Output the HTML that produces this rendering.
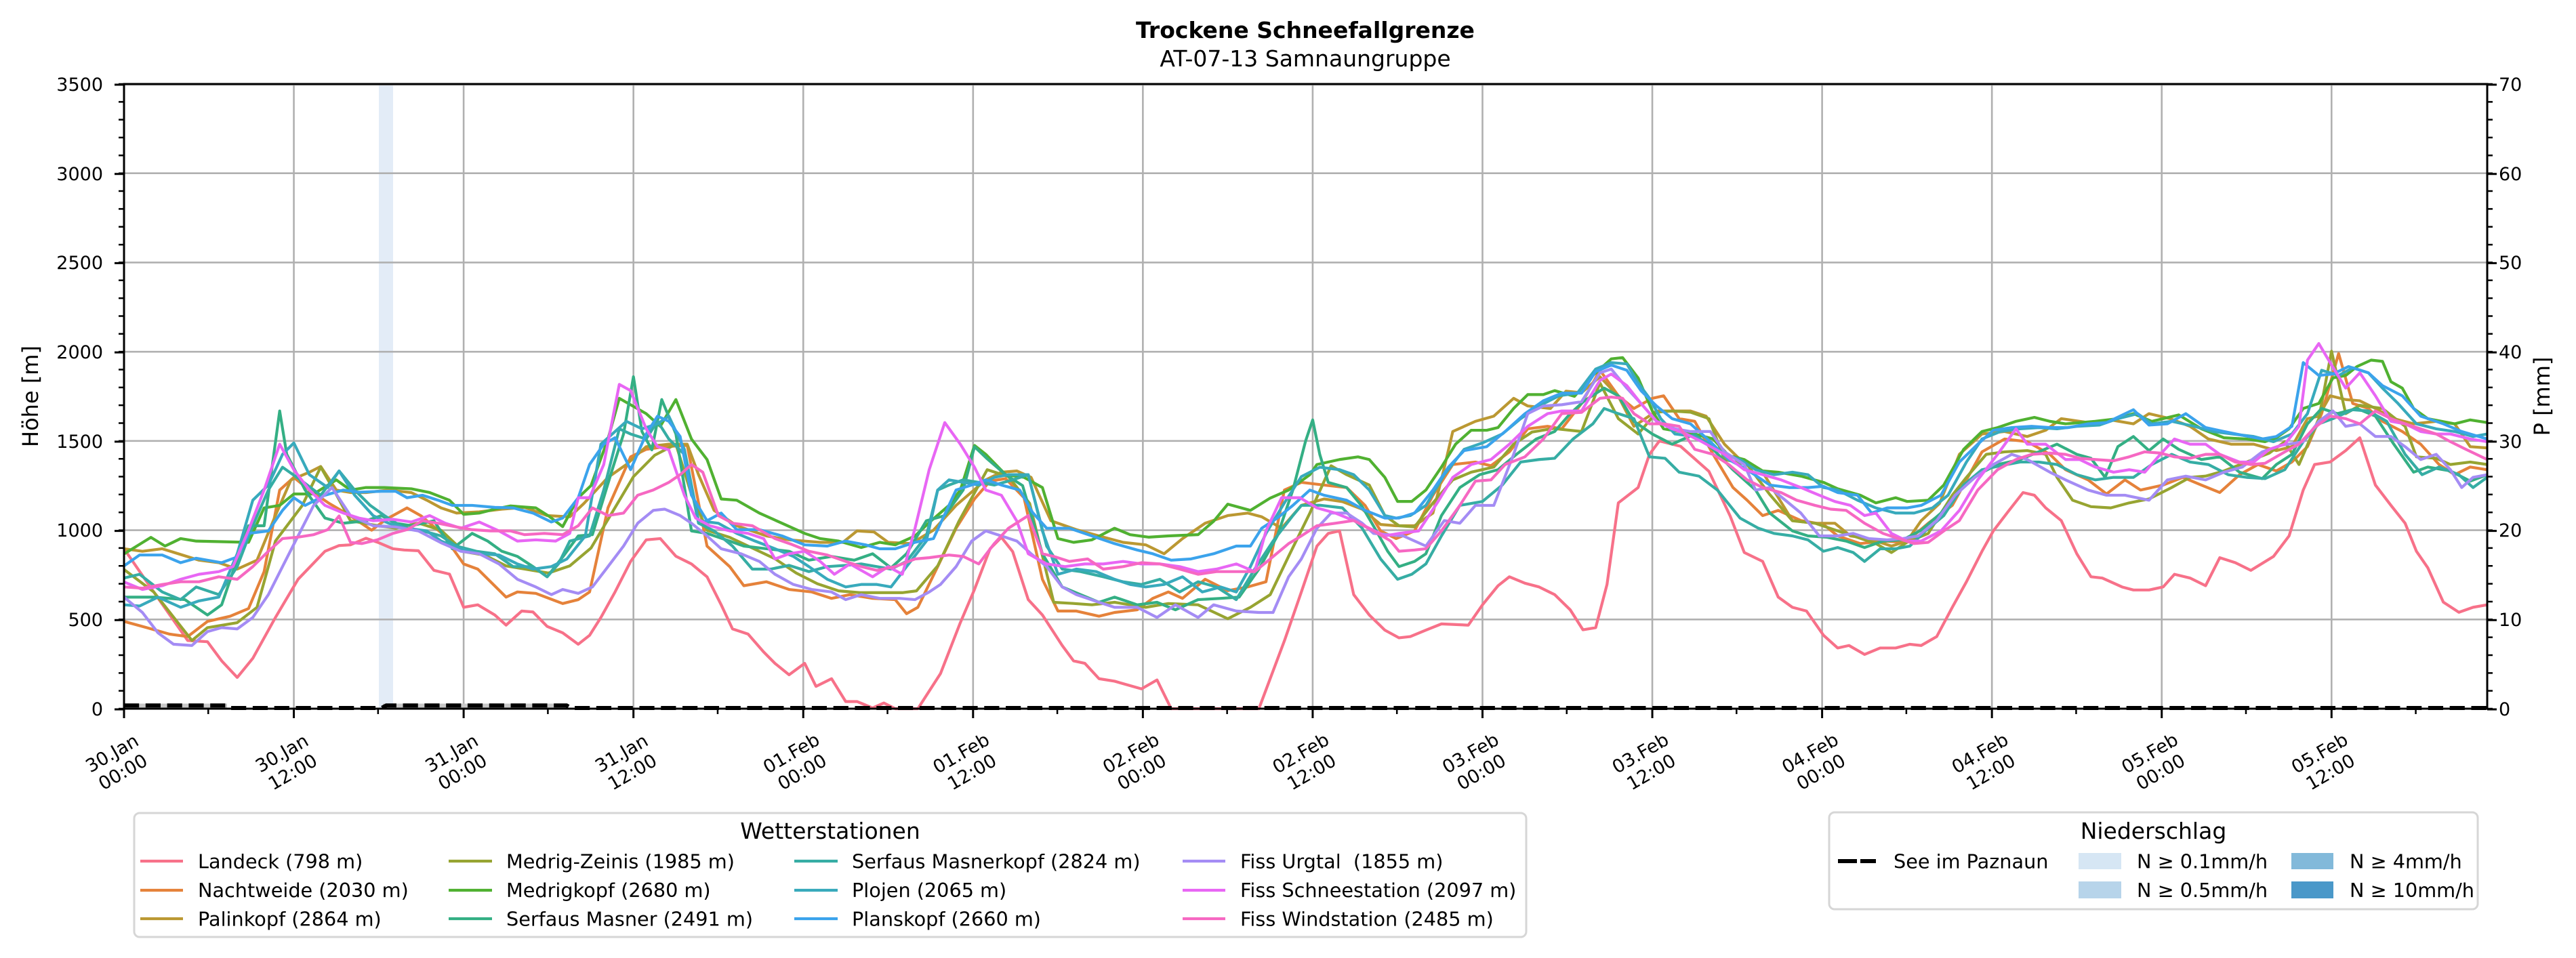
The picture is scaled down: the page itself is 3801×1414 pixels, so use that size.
<!DOCTYPE html>
<html><head><meta charset="utf-8"><style>
html,body{margin:0;padding:0;background:#fff;overflow:hidden}
svg{display:block}
text{font-family:"DejaVu Sans","Liberation Sans",sans-serif;fill:#000}
.tk{font-size:27px}
.lg{font-size:28.7px}
.s{fill:none;stroke-width:4.2;stroke-linejoin:round;vector-effect:non-scaling-stroke}
</style></head><body>
<svg width="3801" height="1414" viewBox="0 0 3801 1414" xmlns="http://www.w3.org/2000/svg">
<rect width="3801" height="1414" fill="#fff"/>
<!-- precip band -->
<rect x="559" y="124" width="21" height="922" fill="#e3ecf7"/>
<!-- grid -->
<g stroke="#b0b0b0" stroke-width="2.6">
<path d="M433.56,124V1046M684.12,124V1046M934.68,124V1046M1185.24,124V1046M1435.8,124V1046M1686.36,124V1046M1936.92,124V1046M2187.48,124V1046M2438.04,124V1046M2688.6,124V1046M2939.16,124V1046M3189.72,124V1046M3440.28,124V1046"/>
<path d="M183,914.29H3670M183,782.57H3670M183,650.86H3670M183,519.14H3670M183,387.43H3670M183,255.71H3670M183,125H3670"/>
</g>
<!-- series -->
<g transform="translate(183,1046) scale(20.88,-0.263429)">
<polyline class="s" stroke="#f77189" points="0,896 2.1,654 4.5,382 5.9,375 6.9,268 8,175 9.1,282 10.7,511 12.3,725 14.2,882 15.2,914 16,918 17.1,955 18,930 19,896 19.8,889 20.8,885 21.9,775 23,754 24,568 25,582 26.2,525 27,468 28.1,547 28.9,542 29.9,461 31,425 32.1,361 32.9,411 33.7,511 34.7,654 35.8,825 36.9,946 37.9,953 39,854 40.1,811 41.2,739 42.2,582 43,447 44.1,418 45.2,318 46,254 47,190 48.1,254 48.9,125 50,168 51,40 51.8,40 52.9,4 53.7,32 54.5,0 56.1,0 57.7,197 59.1,482 60.1,668 61.2,896 62,960 62.8,880 63.9,611 64.9,525 66.3,354 67.1,268 67.9,254 68.9,168 70,154 71.9,111 73,161 74,0 80.2,0 82,380 83.2,654 84.3,911 85.1,982 85.9,996 86.9,639 88,525 89.1,440 90.1,397 90.9,404 92,440 93.1,475 95,468 96,582 97.1,689 97.9,739 99,703 100,682 101.1,639 102.2,554 103.1,442 104,454 104.8,696 105.6,1153 107,1239 107.8,1425 108.5,1500 110,1470 112,1330 113.5,1080 114.5,875 115.8,825 116.9,625 117.9,568 118.9,547 120.1,411 121.1,340 121.9,354 123,304 124.1,340 125.2,340 126.2,361 127,354 128.1,404 129.2,568 130.2,711 131.3,882 132.1,996 133.2,1110 134.2,1211 135,1196 135.8,1125 136.9,1054 138,868 139,739 139.8,732 141.2,682 142,665 143.1,665 144.1,682 144.9,753 146,732 147.1,689 148.1,846 149.2,818 150.3,775 151.9,853 153,968 154,1225 154.8,1368 155.9,1382 157,1446 158,1518 159.1,1253 160.2,1139 161.2,1039 162,882 162.8,790 163.9,597 165,540 166,568 167,582"/>
<polyline class="s" stroke="#e5823a" points="0,489 1.6,454 3.2,418 4.5,404 5.9,489 7.5,518 8.8,561 9.9,768 11,1225 12,1296 13.1,1225 14.5,1150 16,1080 17.5,1000 18.5,1060 20,1125 21,1080 22.5,980 24,811 25,782 27,625 27.8,654 29.1,646 31,589 32.1,611 32.9,654 34.2,1125 35.8,1411 36.9,1453 38.2,1468 39.8,1475 41.2,911 42.8,796 43.8,689 45.4,711 47,668 48.6,654 50,618 51.3,639 52.9,618 54.5,611 55.3,532 56.1,568 57.5,796 58.8,1011 60.1,1175 61.2,1275 62.3,1289 63.6,1182 64.9,725 66,547 67.3,547 68.9,518 70,539 71.6,554 72.7,618 73.8,654 74.8,618 76.4,725 78,661 79.4,682 80.7,711 82,1225 83.2,1268 84.8,1253 86.4,1239 87.7,1139 88.8,996 89.9,953 91.2,996 92.5,1196 93.9,1368 95.5,1382 96.6,1361 97.9,1439 99.2,1568 100.6,1582 101.6,1568 103,1710 104.3,1896 105.6,1753 106.7,1682 108,1739 108.8,1753 109.9,1625 111,1610 112.3,1425 113.7,1239 114.7,1168 115.8,1082 116.9,1111 118.5,1054 120.1,1032 121.1,968 122.7,925 124.3,939 125.9,932 127.5,1039 129.2,1139 130.2,1282 131.3,1439 132.9,1511 134.5,1496 136.1,1425 137.2,1339 138.8,1282 140.1,1203 141.4,1282 142.5,1225 144.1,1253 145.5,1296 146.8,1253 148.1,1211 149.5,1311 150.8,1368 152.1,1332 153.2,1382 154.3,1468 155.3,1653 156.5,1990 157.5,1710 158.6,1682 159.6,1610 161,1553 162.3,1482 163.6,1368 164.7,1311 165.8,1354 167,1339"/>
<polyline class="s" stroke="#bb9832" points="0,896 1.3,882 2.7,896 5.3,832 6.7,818 8,782 9.4,832 10.7,1082 11.8,1282 13.1,1325 13.9,1357 15,1225 16,1211 17.1,1211 18.7,1225 20.3,1211 21.4,1168 22.4,1125 23.5,1096 25.1,1103 26.7,1118 28.3,1128 29.9,1082 31.5,1075 32.5,1150 34.2,1296 35.5,1368 36.9,1468 38.5,1482 39.8,1482 40.6,1311 41.7,1111 43.3,1025 45.4,968 47,946 49.2,932 50.8,932 51.8,996 53,990 54,932 55.6,925 57.2,1000 58.8,1139 60.9,1282 62,1325 63.1,1332 64.1,1296 65.5,1053 67.3,1003 68.9,968 70.6,932 72.2,918 73.5,868 74.8,953 76.4,1039 78,1082 79.4,1096 80.4,1075 81.8,1011 83.2,1139 84.8,1175 86.1,1160 87.5,1118 88.8,1032 89.9,1025 91.2,1025 92.5,1096 93.3,1350 93.9,1553 95.5,1610 96.8,1639 98.2,1739 99.2,1696 100.8,1682 101.9,1779 103,1770 104.3,1860 105.6,1750 106.7,1582 108.3,1668 109.4,1668 110.7,1668 111.8,1639 113.1,1482 114.2,1396 115.8,1325 117.9,1054 119.5,1039 120.9,1039 122,968 123.3,953 124.9,911 126,939 127,1053 128.3,1150 129.7,1425 131.3,1539 132.9,1553 134.5,1525 135.8,1560 136.9,1625 138.8,1603 140.4,1618 142,1596 143.1,1653 144.6,1625 146,1582 147.3,1511 148.9,1482 150.5,1482 152.1,1446 153.2,1468 154.3,1625 155.1,1639 155.9,1753 157,1732 158,1725 159.1,1682 160.4,1625 161.8,1596 163.4,1610 164.7,1596 165.8,1468 167,1461"/>
<polyline class="s" stroke="#97a431" points="0,780 2.1,654 4.8,382 5.9,454 8,482 9.4,568 10.7,939 12.6,1139 13.9,1354 15,1200 16,1053 17.6,1030 19.2,1011 20.8,1040 22.4,1000 24,880 25.5,860 27,800 28.5,780 30,760 31.5,800 33,900 34.5,1100 36,1300 37.5,1420 39,1482 40.1,1200 41.2,1000 42.8,960 44.4,900 46,840 47.5,760 49,700 50.5,660 52,650 53.5,650 55,650 56,660 57.5,800 59,1050 61,1339 62.5,1300 64,1150 65.7,596 67,590 68.4,582 70,596 72.2,568 73.8,589 75.9,582 78,504 79.6,568 81,639 82.3,854 83.8,1096 85.3,1361 86.4,1311 88,1253 89.1,1082 90.1,1025 91.2,1018 92.5,1153 93.9,1282 95.2,1325 96.8,1354 98.2,1482 99.5,1550 101,1570 103,1553 104.3,1825 105.6,1625 107,1539 108.3,1661 109.4,1668 110.7,1661 112,1625 113.1,1396 114.7,1368 116.3,1200 117.9,1053 119.5,1039 121.1,996 122.2,968 123.8,925 124.9,875 126,932 127.5,982 129.2,1196 130.2,1296 131.6,1425 132.9,1439 134.5,1446 135.8,1425 136.6,1296 137.7,1168 139,1132 140.4,1125 141.7,1153 143.1,1175 144.7,1239 146,1296 147.1,1303 148.4,1332 150,1382 151.6,1432 152.7,1496 153.7,1368 155.1,1625 156,2003 157,1653 158,1700 159.6,1682 161.2,1582 162,1411 163.4,1403 164.4,1368 165.8,1382 167,1368"/>
<polyline class="s" stroke="#50b131" points="0,867 1.9,960 2.9,911 4,953 5.1,939 8.8,932 9.9,1125 11,1139 12,1203 13.4,1203 15,1282 16,1225 17.1,1239 18.4,1239 20.3,1232 21.6,1211 23,1168 24,1089 25.1,1096 26.2,1118 27.3,1136 29.1,1125 30,1080 31,1020 32.1,1182 33,1250 34.2,1511 35,1739 36.9,1653 37.9,1582 39,1732 40.1,1511 41.2,1396 42.2,1175 43.3,1168 44.9,1096 46.5,1039 48.1,982 49.2,953 50.5,939 52.1,903 53.4,932 54.5,918 55.9,968 57,1050 58.3,1139 59.1,1225 60.1,1475 60.9,1425 62.3,1311 63.6,1296 64.9,1239 66,953 67.1,932 68.4,946 70,1011 71.1,975 72.4,961 73.8,968 75.9,975 77,1050 78,1146 79.6,1111 81,1180 82.3,1225 83.8,1311 84.3,1368 85.9,1396 87.2,1411 88,1396 89.1,1296 90,1161 91,1161 92,1225 93.1,1354 94.1,1482 95.2,1560 96.3,1560 97.1,1575 98.2,1682 99.2,1760 100.3,1760 101.1,1782 102.5,1750 103.8,1867 105.1,1960 105.9,1967 107,1853 108,1668 108.8,1568 109.9,1553 111,1539 112.3,1511 113.4,1418 114.5,1396 115.8,1332 116.9,1325 118.5,1303 120.1,1268 121.1,1232 122.7,1196 123.8,1153 125.2,1182 126,1161 127.5,1168 128.6,1253 130,1453 131.3,1553 132.4,1575 133.7,1610 135,1632 136.1,1610 137.2,1596 139.3,1610 140.9,1625 142,1653 143.3,1610 145.2,1646 146.8,1568 148.4,1518 150,1511 151.3,1496 152.1,1518 153,1568 154,1682 155.1,1710 156.1,1853 157,1867 157.8,1917 158.8,1953 159.6,1946 160.2,1832 161,1796 161.8,1682 162.8,1625 164.7,1596 165.8,1618 167,1603"/>
<polyline class="s" stroke="#34af84" points="0,625 2.1,625 4.3,611 5.9,525 6.9,582 8.8,1025 9.9,1025 11,1668 11.5,1425 12.8,1225 14.2,1068 15.5,1039 17.1,1053 18.2,1082 19.2,1039 20.3,1025 21.9,1053 23.2,896 24.6,982 25.7,939 26.7,882 27.8,853 28.9,796 29.9,739 31,850 32.1,968 33.1,975 34.5,1339 35.3,1539 36,1860 36.6,1553 37.3,1450 38,1732 39,1539 40.1,996 41.2,982 42.8,939 43.8,911 45.4,896 47,882 48.4,832 50,853 51.6,832 52.9,868 54.2,789 55.3,868 56.7,1053 58,1082 59.3,1225 60.1,1468 61,1400 62.3,1311 63.5,1250 64.9,868 66.3,682 67.6,639 68.9,596 70,625 71.6,582 73,596 74.3,554 75.9,611 77.5,618 78.8,625 80.2,782 81.5,968 82.6,1225 83.5,1500 84,1618 84.5,1425 85.1,1268 86.4,1239 87.5,1132 88.5,996 89.3,882 90.1,796 91.2,825 92,868 93.1,1082 94.4,1239 95.8,1311 97.1,1339 98.4,1425 99.8,1511 101.1,1553 102.2,1653 103.2,1725 104.6,1796 105.6,1753 106.7,1610 108,1539 109.4,1482 111,1539 112.3,1453 113.7,1339 115.3,1225 116.3,1096 117.9,996 119,968 120.3,961 121.7,939 123,903 124.3,939 125.7,946 127,1000 128.4,1096 129.7,1225 131,1311 132.4,1368 134,1396 135.3,1439 136.6,1482 138,1425 139,1403 140,1296 140.9,1468 142,1525 143.1,1446 144.1,1511 145.2,1453 146.8,1396 148.1,1411 149.5,1325 151.1,1289 152.1,1368 153.2,1425 154.3,1596 155.3,1682 156.4,1653 157.8,1682 159.1,1639 160.4,1482 161.8,1325 162.8,1354 164.4,1332 165.8,1275 167,1311"/>
<polyline class="s" stroke="#36ada4" points="0,732 1.1,753 2.7,654 4,611 5.1,682 6.7,639 8,796 9.1,1025 10.2,1225 11.2,1353 12.5,1280 13.9,1196 15.2,1332 16.3,1225 17.4,1139 18.4,1082 19.8,1011 21.1,996 22.4,968 23.5,911 24.9,882 26.2,868 27.5,796 28.9,796 29.9,739 30.7,811 31.5,939 32.9,968 33.9,1225 35,1568 35.8,1539 36.9,1511 37.7,1611 38.5,1511 39.6,1425 40.6,1039 41.7,996 43,911 44.4,782 45.7,782 47,803 48.4,768 49.7,796 51,803 52.1,811 53.2,796 54.2,782 55.3,825 56.7,968 57.5,1225 58.3,1253 59.3,1282 60.4,1268 61.5,1253 62.8,1282 63.9,1311 65.2,911 66.3,782 67.6,768 69.2,739 70.6,711 71.9,696 73.2,725 74.6,654 75.9,711 77.2,682 78.6,611 79.9,782 81.2,939 82.6,1082 83.2,1139 84.5,1140 86.1,1125 87.5,1011 88.8,839 90,725 91,753 92,811 93.1,968 94.4,1139 96,1161 97.4,1253 98.7,1382 100,1396 101.1,1403 102.4,1511 103.8,1596 104.6,1682 105.6,1653 106.7,1625 107.8,1411 108.9,1403 109.9,1325 111.3,1303 112.6,1225 114.2,1068 115.5,1011 116.6,982 117.9,968 119,946 120.1,882 121.1,903 122.2,875 123,825 124.1,896 125.2,896 126.2,911 127.3,996 128.6,1082 130,1253 131.3,1339 132.6,1361 134,1382 135.3,1382 136.6,1368 138,1311 139.3,1282 140.6,1296 142,1296 143.3,1368 144.7,1425 146,1382 147.3,1368 148.7,1311 150,1296 151.3,1289 152.7,1339 154,1496 155.1,1596 156.1,1625 157.5,1675 158.6,1668 159.9,1610 161.2,1425 162.4,1311 163.6,1354 165,1311 166,1239 167,1296"/>
<polyline class="s" stroke="#38aabc" points="0,582 1.1,575 2.4,625 4,568 5.3,604 6.7,625 8,868 9.1,1168 10.2,1253 11.2,1425 12,1489 13.1,1311 14.4,1239 15.2,1332 16.3,1196 17.6,1082 18.7,1039 20,1011 21.4,996 22.4,939 23.8,896 25.1,868 26.5,861 27.8,811 28.9,782 30.2,796 31.3,839 32.6,968 33.7,1482 34.7,1553 35.5,1610 36.6,1568 37.7,1596 38.5,1639 39.6,1453 40.6,1053 42,1039 43.3,982 44.6,939 46,896 47.3,853 48.4,796 49.7,725 51,682 52.1,696 53.2,696 54.2,682 55.3,796 56.7,939 57.5,1225 58.3,1282 59.3,1268 60.4,1253 61.5,1296 62.5,1311 63.9,1311 64.9,996 66,753 67.3,782 68.7,768 70,725 71.1,696 72.2,682 73.5,696 74.8,739 76.2,654 77.5,682 78.6,654 79.6,796 80.7,982 82,1153 83.2,1300 84.5,1353 85.9,1339 86.9,1311 88,1225 89.1,1082 89.9,1068 90.9,1082 92,1139 93.3,1311 94.7,1453 96,1489 97.4,1539 98.7,1625 100,1696 101.4,1753 102.7,1768 104,1903 105.1,1939 106.2,1932 107,1825 107.8,1739 108.6,1625 109.6,1539 111,1525 112.1,1482 113.1,1425 114.2,1396 115.3,1339 116.6,1311 117.9,1325 119,1311 120.1,1239 121.1,1225 122.5,1168 123.8,1125 125.2,1096 126.5,1096 127.8,1125 128.9,1196 130.2,1382 131.3,1511 132.6,1553 134,1568 135.3,1575 136.6,1568 138,1582 139.6,1589 140.9,1625 142.3,1653 143.3,1596 144.7,1610 146.3,1582 147.6,1553 149,1539 150.5,1525 151.9,1496 153.2,1539 154.3,1653 155.3,1896 156.5,1867 157.5,1910 158.6,1882 159.6,1796 160.7,1710 162,1596 163.4,1568 164.7,1553 166,1525 167,1539"/>
<polyline class="s" stroke="#3ba3ec" points="0,800 1.1,861 2.7,861 4,818 5.1,843 6.9,818 8,850 8.8,982 10.2,996 11.2,1111 12,1182 12.8,1139 14.2,1196 15.5,1225 16.6,1213 18.2,1218 19.2,1218 20,1182 21.1,1196 22.2,1168 23.2,1139 24.6,1139 26.2,1128 27.5,1125 28.9,1096 30.2,1046 31,1068 32.1,1182 32.9,1368 33.9,1482 34.7,1518 35.8,1339 36.9,1539 37.7,1639 38.5,1610 39.3,1525 40.1,1196 41.2,1053 42.2,1096 43.3,1003 44.9,1003 46.5,968 48.1,918 49.7,911 51,939 52.4,918 53.4,896 54.5,896 55.9,932 57.2,953 58.8,1225 59.9,1253 60.9,1282 62,1253 63.3,1225 64.2,1100 65.2,1011 66.8,1011 68.4,968 70,925 71.6,889 72.7,868 74,832 75.4,839 77,868 78.6,911 79.6,911 80.4,1011 81.5,1068 82.6,1139 83.8,1225 84.8,1196 86.4,1168 87.7,1111 89.1,1068 90.1,1068 91.2,1096 92.5,1225 93.6,1354 94.7,1446 96.3,1468 97.6,1553 99,1653 100.3,1725 101.6,1768 103,1768 104,1889 105.1,1925 106.2,1896 107.2,1782 108.3,1696 109.4,1625 110.7,1596 112.1,1496 113.4,1396 114.7,1339 116.3,1253 117.7,1239 119,1239 120.1,1246 121.1,1211 122.5,1196 123.5,1096 124.6,1125 126,1125 127,1139 128.4,1196 129.7,1382 131,1482 132.1,1560 133.4,1575 134.8,1582 136.1,1575 137.4,1575 138.8,1596 140.1,1603 142,1675 143.1,1589 144.4,1596 145.7,1653 147.1,1575 148.4,1553 149.7,1532 151.1,1511 152.1,1525 153.2,1582 154,1939 155.1,1867 156.1,1875 157.2,1917 158.6,1882 159.6,1810 161,1753 162.3,1639 163.9,1596 165.2,1553 167,1511"/>
<polyline class="s" stroke="#a48cf4" points="0,625 1.3,539 2.4,425 3.5,361 4.8,354 5.9,432 6.9,454 8,447 9.1,511 10.2,639 11.2,796 12.3,968 13.4,1139 14.7,1239 16,1082 17.6,1025 19.2,1018 20.8,996 22.4,930 23.8,882 25.1,868 26.5,811 27.8,725 29.1,682 30.2,639 31,668 32.1,646 33.1,682 34.2,796 35.3,911 36.3,1039 37.4,1111 38.2,1118 39.3,1082 40.1,1039 41.2,968 42.2,896 43.6,868 44.9,825 46,753 47.3,696 48.6,668 50,654 51,611 52.1,639 53.4,618 54.8,618 55.9,611 56.9,654 57.7,696 58.8,796 59.9,939 60.9,996 62,968 63.1,939 64.1,868 65.2,796 66.3,682 67.3,639 68.9,596 70,568 71.6,568 73,511 74.3,582 75.9,511 77,582 78.6,547 80.2,539 81.2,539 82.3,739 83.2,839 84.3,1011 85.3,1096 86.4,1096 87.5,1039 88.3,982 89.3,975 90.4,968 92,911 93.3,1054 94.4,1039 95.5,1139 96.8,1139 98.2,1425 99.2,1653 100.3,1696 101.6,1703 103,1720 104.3,1882 105.1,1903 106.2,1796 107.2,1710 108.3,1610 109.6,1568 110.7,1553 112.1,1553 113.1,1439 114.5,1368 115.3,1225 116.3,1239 117.4,1168 118.5,1096 119.8,968 121.1,968 122.2,982 123.3,953 124.6,946 125.7,953 126.8,968 128.1,1054 129.4,1196 130.8,1296 132.1,1368 133.4,1425 134.5,1396 136.1,1325 137.2,1282 138.8,1225 140.1,1196 141.4,1196 143.1,1168 144.4,1282 145.7,1303 147.1,1282 148.4,1325 149.7,1354 151.1,1439 152.4,1475 154,1496 155.1,1610 156.1,1668 157,1582 158,1596 159.1,1525 160.2,1525 161.2,1468 162.3,1396 163.4,1425 164.4,1339 165.2,1239 166,1296 167,1311"/>
<polyline class="s" stroke="#e866f4" points="0,710 1.3,668 2.7,689 4,725 5.3,753 6.7,768 7.7,796 8.8,1000 9.9,1225 11,1482 12,1339 13.1,1225 14.2,1139 15.5,1096 16.6,1068 17.6,1053 19,1061 20.3,1046 21.6,1082 22.7,1039 23.8,1011 25.1,1046 26.5,996 27.8,939 29.1,946 30.5,939 31.5,982 32.1,1182 32.9,1182 33.9,1368 35,1817 35.8,1782 36.9,1568 37.7,1468 38.5,1450 39.6,1196 40.4,1068 41.4,1025 42.8,996 44.1,982 45.2,953 46,839 47,868 48.1,882 49.2,825 50.2,753 51.3,811 52.9,739 54,796 55,753 55.9,1011 56.9,1339 58,1603 59.1,1482 60.1,1353 60.9,1225 62,1196 63.1,1050 63.9,868 65.2,811 66.5,796 67.9,811 69.2,811 70.6,825 71.9,811 73.2,811 74.6,796 75.9,768 77.2,782 78.6,811 79.9,768 80.7,996 81.8,1182 83.1,1182 84.3,1125 85.6,1096 86.9,1054 88,1011 89.1,968 90.1,982 91.5,996 92.8,1153 93.9,1296 95.2,1368 96.6,1396 97.9,1482 99.2,1582 100.6,1653 101.6,1668 103,1668 104.3,1839 105.1,1875 106.2,1810 107.2,1710 108.3,1610 109.4,1568 110.4,1539 111.5,1496 113.1,1425 114.5,1339 115.8,1311 117.1,1282 118.5,1239 119.8,1196 120.9,1161 122,1139 123,1082 123.8,1096 124.9,982 126,939 127,939 128.4,996 129.7,1111 131,1282 132.4,1425 133.7,1568 134.5,1482 135.8,1482 137.2,1396 138.2,1396 139.3,1354 140.6,1325 141.7,1339 142.8,1325 143.9,1425 144.9,1511 146,1482 147.1,1482 148.1,1425 149.5,1382 150.5,1382 151.6,1453 152.7,1482 153.7,1582 154.3,1953 155.1,2046 155.9,1939 157,1796 158,1882 159.1,1753 160.2,1610 161.2,1596 162.3,1553 163.4,1539 164.4,1539 165.8,1511 167,1496"/>
<polyline class="s" stroke="#f668c2" points="0,682 1.3,675 2.7,696 4,711 5.3,711 6.7,739 8,725 9.1,796 10.2,882 11.2,953 12.3,961 13.4,975 14.4,1003 15.2,1080 16,932 16.8,925 17.9,946 19,982 20,1003 21.1,1053 22.2,1039 23.5,1018 24.6,1003 25.9,996 27.3,996 28.3,975 29.7,982 31,975 32.1,1025 33.1,1125 34.2,1082 35.3,1096 36.3,1196 37.4,1225 38.5,1268 39.3,1311 40.1,1368 40.9,1325 42,1082 43,1039 44.4,1025 46,953 47.2,920 48.4,882 49.7,861 51,825 52.1,796 53.2,775 54.5,796 55.9,839 56.9,846 58.3,861 59.3,853 60.4,811 61.5,925 62.5,1011 63.9,1082 64.9,868 65.7,853 66.8,825 68.1,839 69.2,782 70.6,796 71.9,818 73.2,811 74.6,782 75.9,753 77.2,768 78.6,768 79.9,768 81,839 82.3,925 83.2,968 84.3,1025 85.6,1039 86.9,1054 88.3,996 89.5,940 90.1,882 91.2,889 92,896 93.1,996 94.4,1139 95.5,1275 96.6,1282 97.6,1368 99,1411 100.3,1511 101.6,1653 103,1660 104.3,1739 105.1,1746 105.9,1739 106.7,1653 107.8,1596 108.8,1596 109.9,1582 111,1453 112.3,1425 113.4,1368 114.7,1282 115.8,1239 117.1,1211 118.2,1168 119.5,1139 120.6,1118 121.7,1111 123,1039 124.3,982 125.4,953 126.5,925 127.5,932 128.6,996 129.7,1054 131,1225 132.4,1339 133.7,1396 134.8,1425 136.1,1432 137.2,1425 138.2,1403 139.3,1396 140.6,1389 141.7,1411 142.8,1439 143.9,1432 144.9,1411 146,1403 147.1,1425 148.1,1425 149.2,1382 150.3,1368 151.3,1375 152.7,1439 153.7,1482 154.8,1575 155.9,1639 157,1625 158,1596 159.1,1668 160.2,1625 161.2,1596 162.3,1568 163.4,1539 164.4,1496 165.5,1453 167,1396"/>
</g>
<!-- See im Paznaun -->
<rect x="183" y="1038.5" width="152" height="7.5" fill="#c8c8c8"/>
<rect x="565" y="1038.5" width="273" height="7.5" fill="#c8c8c8"/>
<path d="M183,1041.3L333,1041.3L340,1045L563,1045L570,1041.3L836,1041.3L843,1045L3670,1045" fill="none" stroke="#000" stroke-width="6" stroke-dasharray="22.2 9.6"/>
<!-- spines -->
<rect x="183" y="124" width="3487" height="922" fill="none" stroke="#000" stroke-width="3"/>
<!-- ticks -->
<g stroke="#000" fill="none">
<line x1="176" y1="1048.5" x2="176" y2="120" stroke-width="14" stroke-dasharray="3 128.714"/>
<line x1="179" y1="1047.25" x2="179" y2="120" stroke-width="8" stroke-dasharray="2.5 23.843"/>
<line x1="3677" y1="1048.5" x2="3677" y2="120" stroke-width="14" stroke-dasharray="3 128.714"/>
<line x1="3674" y1="1047.25" x2="3674" y2="120" stroke-width="8" stroke-dasharray="2.5 23.843"/>
<line x1="181.5" y1="1053" x2="3672" y2="1053" stroke-width="14" stroke-dasharray="3 247.56"/>
<line x1="306.03" y1="1050" x2="3672" y2="1050" stroke-width="8" stroke-dasharray="2.5 248.06"/>
</g>
<!-- y tick labels left -->
<g class="tk" text-anchor="end">
<text x="152" y="1056">0</text>
<text x="152" y="924">500</text>
<text x="152" y="792">1000</text>
<text x="152" y="661">1500</text>
<text x="152" y="529">2000</text>
<text x="152" y="397">2500</text>
<text x="152" y="266">3000</text>
<text x="152" y="134">3500</text>
</g>
<g class="tk">
<text x="3687" y="1056">0</text>
<text x="3687" y="924">10</text>
<text x="3687" y="792">20</text>
<text x="3687" y="661">30</text>
<text x="3687" y="529">40</text>
<text x="3687" y="397">50</text>
<text x="3687" y="266">60</text>
<text x="3687" y="134">70</text>
</g>
<text transform="translate(56,585) rotate(-90)" text-anchor="middle" style="font-size:32px">Höhe [m]</text>
<text transform="translate(3762,585) rotate(-90)" text-anchor="middle" style="font-size:32px">P [mm]</text>
<!-- x tick labels -->
<g class="tk" text-anchor="middle">
<text transform="translate(173,1125) rotate(-30)"><tspan x="0" y="-6">30.Jan</tspan><tspan x="0" y="26">00:00</tspan></text>
<text transform="translate(423.56,1125) rotate(-30)"><tspan x="0" y="-6">30.Jan</tspan><tspan x="0" y="26">12:00</tspan></text>
<text transform="translate(674.12,1125) rotate(-30)"><tspan x="0" y="-6">31.Jan</tspan><tspan x="0" y="26">00:00</tspan></text>
<text transform="translate(924.68,1125) rotate(-30)"><tspan x="0" y="-6">31.Jan</tspan><tspan x="0" y="26">12:00</tspan></text>
<text transform="translate(1175.24,1125) rotate(-30)"><tspan x="0" y="-6">01.Feb</tspan><tspan x="0" y="26">00:00</tspan></text>
<text transform="translate(1425.8,1125) rotate(-30)"><tspan x="0" y="-6">01.Feb</tspan><tspan x="0" y="26">12:00</tspan></text>
<text transform="translate(1676.36,1125) rotate(-30)"><tspan x="0" y="-6">02.Feb</tspan><tspan x="0" y="26">00:00</tspan></text>
<text transform="translate(1926.92,1125) rotate(-30)"><tspan x="0" y="-6">02.Feb</tspan><tspan x="0" y="26">12:00</tspan></text>
<text transform="translate(2177.48,1125) rotate(-30)"><tspan x="0" y="-6">03.Feb</tspan><tspan x="0" y="26">00:00</tspan></text>
<text transform="translate(2428.04,1125) rotate(-30)"><tspan x="0" y="-6">03.Feb</tspan><tspan x="0" y="26">12:00</tspan></text>
<text transform="translate(2678.6,1125) rotate(-30)"><tspan x="0" y="-6">04.Feb</tspan><tspan x="0" y="26">00:00</tspan></text>
<text transform="translate(2929.16,1125) rotate(-30)"><tspan x="0" y="-6">04.Feb</tspan><tspan x="0" y="26">12:00</tspan></text>
<text transform="translate(3179.72,1125) rotate(-30)"><tspan x="0" y="-6">05.Feb</tspan><tspan x="0" y="26">00:00</tspan></text>
<text transform="translate(3430.28,1125) rotate(-30)"><tspan x="0" y="-6">05.Feb</tspan><tspan x="0" y="26">12:00</tspan></text>
</g>
<!-- title -->
<text x="1926" y="56" text-anchor="middle" style="font-size:33px;font-weight:bold">Trockene Schneefallgrenze</text>
<text x="1926" y="98" text-anchor="middle" style="font-size:33px">AT-07-13 Samnaungruppe</text>
<!-- legend 1 -->
<rect x="198" y="1200" width="2054" height="183" rx="8" fill="#fff" stroke="#d6d6d6" stroke-width="3"/>
<text x="1225" y="1238" text-anchor="middle" style="font-size:33px">Wetterstationen</text>
<g stroke-width="4.3">
<line x1="207" y1="1271" x2="270" y2="1271" stroke="#f77189"/>
<line x1="207" y1="1314" x2="270" y2="1314" stroke="#e5823a"/>
<line x1="207" y1="1356" x2="270" y2="1356" stroke="#bb9832"/>
<line x1="662" y1="1271" x2="726" y2="1271" stroke="#97a431"/>
<line x1="662" y1="1314" x2="726" y2="1314" stroke="#50b131"/>
<line x1="662" y1="1356" x2="726" y2="1356" stroke="#34af84"/>
<line x1="1172" y1="1271" x2="1236" y2="1271" stroke="#36ada4"/>
<line x1="1172" y1="1314" x2="1236" y2="1314" stroke="#38aabc"/>
<line x1="1172" y1="1356" x2="1236" y2="1356" stroke="#3ba3ec"/>
<line x1="1745" y1="1271" x2="1808" y2="1271" stroke="#a48cf4"/>
<line x1="1745" y1="1314" x2="1808" y2="1314" stroke="#e866f4"/>
<line x1="1745" y1="1356" x2="1808" y2="1356" stroke="#f668c2"/>
</g>
<g class="lg" style="white-space:pre">
<text x="292" y="1281.5">Landeck (798 m)</text>
<text x="292" y="1324">Nachtweide (2030 m)</text>
<text x="292" y="1366.5">Palinkopf (2864 m)</text>
<text x="747" y="1281.5">Medrig-Zeinis (1985 m)</text>
<text x="747" y="1324">Medrigkopf (2680 m)</text>
<text x="747" y="1366.5">Serfaus Masner (2491 m)</text>
<text x="1257" y="1281.5">Serfaus Masnerkopf (2824 m)</text>
<text x="1257" y="1324">Plojen (2065 m)</text>
<text x="1257" y="1366.5">Planskopf (2660 m)</text>
<text x="1830" y="1281.5" xml:space="preserve">Fiss Urgtal  (1855 m)</text>
<text x="1830" y="1324">Fiss Schneestation (2097 m)</text>
<text x="1830" y="1366.5">Fiss Windstation (2485 m)</text>
</g>
<!-- legend 2 -->
<rect x="2699" y="1199" width="957" height="143" rx="8" fill="#fff" stroke="#d6d6d6" stroke-width="3"/>
<text x="3177.5" y="1238" text-anchor="middle" style="font-size:33px">Niederschlag</text>
<rect x="2712" y="1268" width="28" height="6" fill="#000"/>
<rect x="2745" y="1268" width="23" height="6" fill="#000"/>
<rect x="3067" y="1259" width="63" height="24" fill="#d6e6f4"/>
<rect x="3067" y="1301" width="63" height="25" fill="#b7d4ea"/>
<rect x="3381" y="1259" width="62" height="24" fill="#82b9da"/>
<rect x="3381" y="1301" width="62" height="25" fill="#4a98c9"/>
<g class="lg">
<text x="2794" y="1281.5">See im Paznaun</text>
<text x="3153" y="1281.5">N ≥ 0.1mm/h</text>
<text x="3153" y="1324">N ≥ 0.5mm/h</text>
<text x="3467" y="1281.5">N ≥ 4mm/h</text>
<text x="3467" y="1324">N ≥ 10mm/h</text>
</g>
</svg>
</body></html>
